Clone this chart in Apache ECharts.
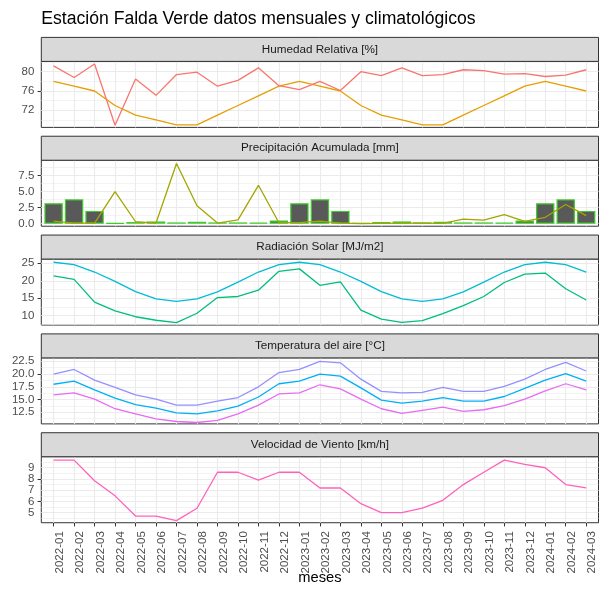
<!DOCTYPE html>
<html>
<head>
<meta charset="utf-8">
<script src="https://cdn.jsdelivr.net/npm/echarts@6/dist/echarts.min.js"></script>
<style>
html,body{margin:0;padding:0;background:#fff;}
#c{width:599px;height:593px;}
</style>
</head>
<body>
<div id="c"></div>
<script>
// ---------- data ----------
const months = ['2022-01','2022-02','2022-03','2022-04','2022-05','2022-06','2022-07','2022-08','2022-09','2022-10','2022-11','2022-12',
  '2023-01','2023-02','2023-03','2023-04','2023-05','2023-06','2023-07','2023-08','2023-09','2023-10','2023-11','2023-12',
  '2024-01','2024-02','2024-03'];

const humedadMes  = [81.2,78.8,81.6,68.9,78.5,75.1,79.4,79.9,77.0,78.2,80.8,77.1,76.3,78.0,76.1,80.0,79.2,80.8,79.2,79.4,80.4,80.2,79.5,79.6,79.0,79.3,80.4];
const humedadClim = [78,77,76,73,71,70,69,69,71,73,75,77,78,77,76,73,71,70,69,69,71,73,75,77,78,77,76];

const precipClim = [3.2,3.8,2.0,0.1,0.25,0.35,0.2,0.3,0.2,0.2,0.15,0.5,3.2,3.8,2.0,0.1,0.25,0.35,0.2,0.3,0.2,0.2,0.15,0.5,3.2,3.8,2.0];
const precipMes  = [0.4,0.1,0.1,5.0,0.3,0.1,9.4,2.8,0.1,0.6,6.0,0.15,0.15,0.4,0.1,0.0,0.05,0.1,0.1,0.05,0.7,0.55,1.4,0.35,1.0,3.0,1.25];

const radClim = [25.3,24.6,22.5,19.8,16.9,14.8,14.1,14.8,16.8,19.6,22.5,24.6,25.3,24.6,22.5,19.8,16.9,14.8,14.1,14.8,16.8,19.6,22.5,24.6,25.3,24.6,22.5];
const radMes  = [21.4,20.4,13.9,11.4,9.7,8.7,8.0,10.7,15.2,15.5,17.3,22.7,23.4,18.7,19.7,11.6,9.0,8.1,8.6,10.6,12.9,15.5,19.5,21.9,22.2,17.7,14.5];

const tempMax  = [20.0,20.9,18.8,17.4,15.9,15.1,13.9,13.9,14.7,15.4,17.5,20.3,20.9,22.5,22.2,19.0,16.6,16.3,16.4,17.4,16.6,16.6,17.6,19.0,20.9,22.3,20.6];
const tempMed  = [18.0,18.6,16.9,15.3,14.0,13.3,12.4,12.2,12.8,13.7,15.5,18.1,18.6,20.0,19.6,17.3,14.9,14.3,14.7,15.4,14.7,14.7,15.6,17.2,18.8,20.1,18.6];
const tempMin  = [15.9,16.3,15.1,13.2,12.2,11.2,10.7,10.5,10.9,12.2,13.9,16.1,16.3,17.9,17.1,15.1,13.2,12.3,12.9,13.5,12.7,13.0,13.8,15.1,16.7,18.1,16.9];

const viento = [9.68,9.68,7.85,6.5,4.7,4.7,4.3,5.4,8.6,8.6,7.9,8.6,8.6,7.2,7.2,5.8,5.0,5.0,5.4,6.1,7.5,8.6,9.68,9.3,9.0,7.5,7.2];

const panelTitles = ['Humedad Relativa [%]','Precipitación Acumulada [mm]','Radiación Solar [MJ/m2]','Temperatura del aire [°C]','Velocidad de Viento [km/h]'];

const humTicks = [72,76,80],            humMinor = [70,74,78,82];
const preTicks = [0,2.5,5,7.5],         preMinor = [1.25,3.75,6.25,8.75];
const radTicks = [10,15,20,25],         radMinor = [7.5,12.5,17.5,22.5];
const temTicks = [12.5,15,17.5,20,22.5],temMinor = [11.25,13.75,16.25,18.75,21.25];
const vieTicks = [5,6,7,8,9],           vieMinor = [4.5,5.5,6.5,7.5,8.5,9.5];

const humLabels = ['72','76','80'];
const preLabels = ['0.0','2.5','5.0','7.5'];
const radLabels = ['10','15','20','25'];
const temLabels = ['12.5','15.0','17.5','20.0','22.5'];
const vieLabels = ['5','6','7','8','9'];

const yRanges = [[68.46,82.13],[-0.4,9.92],[7.32,26.21],[10.23,23.17],[4.11,9.98]];

// ---------- layout ----------
const FONT = 'Liberation Sans, Arial, Helvetica, sans-serif';
const L = 41.3, W = 557.2;
const STRIP0 = 37.4, PERIOD = 98.83, STRIP_H = 24, PANEL_H = 66;
const XMIN = -0.6, XMAX = months.length - 1 + 0.6;
const idx = months.map((m, i) => i);

const panels = [
  {ticks: humTicks, minor: humMinor, labels: humLabels,
   series: [{data: humedadClim, color: '#E69F00'}, {data: humedadMes, color: '#F8766D'}]},
  {ticks: preTicks, minor: preMinor, labels: preLabels, bars: precipClim,
   series: [{data: precipMes, color: '#A3A500'}]},
  {ticks: radTicks, minor: radMinor, labels: radLabels,
   series: [{data: radClim, color: '#00BCD4'}, {data: radMes, color: '#00BF7D'}]},
  {ticks: temTicks, minor: temMinor, labels: temLabels,
   series: [{data: tempMax, color: '#9590FF'}, {data: tempMed, color: '#00B0F6'}, {data: tempMin, color: '#E76BF3'}]},
  {ticks: vieTicks, minor: vieMinor, labels: vieLabels,
   series: [{data: viento, color: '#FF62BC'}]}
];

const grids = [], xAxes = [], yAxes = [], series = [], graphics = [];
const gridColor = '#EBEBEB';

panels.forEach((p, i) => {
  const stripTop = STRIP0 + PERIOD * i;
  const top = stripTop + STRIP_H;
  const last = i === panels.length - 1;
  grids.push({left: L, top: top, width: W, height: PANEL_H, show: true,
    backgroundColor: '#fff', borderColor: '#333333', borderWidth: 1, containLabel: false});
  xAxes.push({type: 'value', gridIndex: i, min: XMIN, max: XMAX,
    axisLine: {show: false}, splitLine: {show: false},
    axisTick: {show: last, customValues: idx, length: 3.7, lineStyle: {color: '#333333', width: 1}},
    axisLabel: {show: last, customValues: idx, rotate: 90, margin: 8.5,
      verticalAlign: 'top', hideOverlap: false, showMinLabel: true, showMaxLabel: true,
      formatter: v => months[Math.round(v)] || '',
      color: '#4D4D4D', fontSize: 11.5, fontFamily: FONT}});
  // two y axes per panel (alternate tick labels) so that no label is dropped as overlapping
  const yAxisIdx = yAxes.length;
  [0, 1].forEach(par => {
    const vals = p.ticks.filter((t, k) => k % 2 === par);
    yAxes.push({type: 'value', gridIndex: i, min: yRanges[i][0], max: yRanges[i][1], position: 'left', offset: 0,
      axisLine: {show: false}, splitLine: {show: false},
      axisTick: {show: vals.length > 0, customValues: vals, length: 3.7, lineStyle: {color: '#333333', width: 1}},
      axisLabel: {show: vals.length > 0, customValues: vals, margin: 7, hideOverlap: false, showMinLabel: true, showMaxLabel: true,
        formatter: v => { const k = p.ticks.findIndex(t => Math.abs(t - v) < 1e-6); return k >= 0 ? p.labels[k] : ''; },
        color: '#4D4D4D', fontSize: 11.5, fontFamily: FONT}});
  });
  // grid lines through the axes' scales
  const ml = [];
  p.minor.forEach(v => { if (v > yRanges[i][0] && v < yRanges[i][1]) ml.push({yAxis: v, lineStyle: {color: gridColor, width: 0.6, type: 'solid'}}); });
  p.ticks.forEach(v => ml.push({yAxis: v, lineStyle: {color: gridColor, width: 1.1, type: 'solid'}}));
  idx.forEach(v => ml.push({xAxis: v, lineStyle: {color: gridColor, width: 1.1, type: 'solid'}}));
  series.push({type: 'line', xAxisIndex: i, yAxisIndex: yAxisIdx, data: [], z: 1, silent: true,
    markLine: {silent: true, z: 1, symbol: ['none', 'none'], label: {show: false}, animation: false,
      emphasis: {disabled: true}, data: ml}});
  if (p.bars) {
    series.push({type: 'bar', xAxisIndex: i, yAxisIndex: yAxisIdx, z: 2,
      data: p.bars.map((v, k) => [idx[k], v]), barWidth: 18.4,
      itemStyle: {color: '#595959', borderColor: '#3DCC2A', borderWidth: 1.2}});
  }
  p.series.forEach(s => {
    series.push({type: 'line', xAxisIndex: i, yAxisIndex: yAxisIdx, z: 3,
      data: s.data.map((v, k) => [idx[k], v]), symbol: 'none',
      lineStyle: {color: s.color, width: 1.3}, itemStyle: {color: s.color}});
  });
  graphics.push({type: 'rect', z: 10, shape: {x: L, y: stripTop, width: W, height: STRIP_H},
    style: {fill: '#D9D9D9', stroke: '#333333', lineWidth: 1}});
  graphics.push({type: 'text', z: 11, x: L + W / 2, y: stripTop + STRIP_H / 2,
    style: {text: panelTitles[i], fill: '#1A1A1A', font: '11.7px ' + FONT, align: 'center', verticalAlign: 'middle'}});
});

graphics.push({type: 'text', z: 11, x: L, y: 19,
  style: {text: 'Estación Falda Verde datos mensuales y climatológicos', fill: '#000', font: '17.6px ' + FONT, align: 'left', verticalAlign: 'middle'}});
graphics.push({type: 'text', z: 11, x: L + W / 2, y: 578,
  style: {text: 'meses', fill: '#000', font: '14.7px ' + FONT, align: 'center', verticalAlign: 'middle'}});

const chart = echarts.init(document.getElementById('c'), null, {renderer: 'canvas'});
chart.setOption({
  animation: false,
  backgroundColor: '#fff',
  grid: grids, xAxis: xAxes, yAxis: yAxes, series: series,
  graphic: graphics
});
</script>
</body>
</html>
